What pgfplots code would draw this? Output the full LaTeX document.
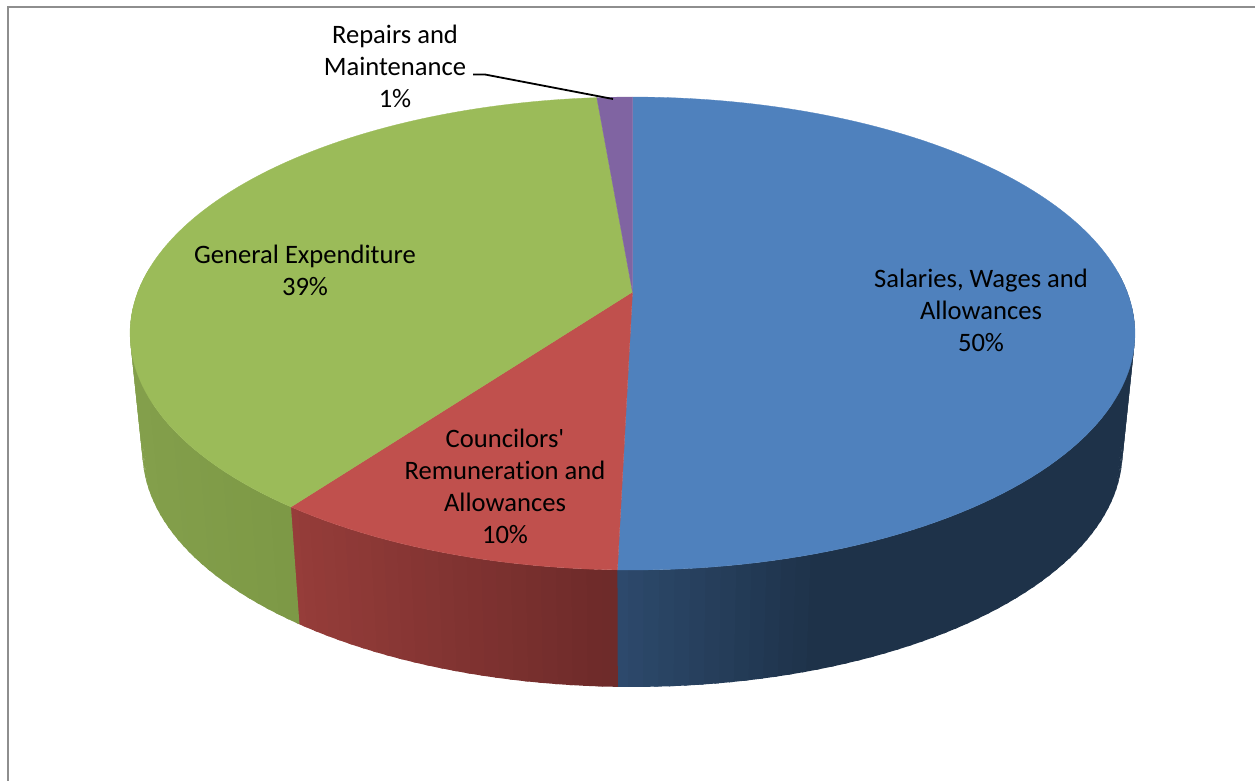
\documentclass[border=0pt]{standalone}
\usepackage{pgfplots}
\pgfplotsset{compat=1.18}
\usepackage{fontspec}
% labels keep the straight apostrophe and separate letters
\newfontfamily\labelfont{Carlito}[Ligatures=NoCommon]

% Shares of expenditure, percent, clockwise from twelve o'clock
\def\valSalaries{50.4}
\def\valCouncil{9.7}
\def\valGeneral{38.55}
\def\valRepairs{1.35}

% Projection of the disc: top face and bottom face, in picture units
\def\kp{0.1755}
\def\cx{632.5}
\def\topA{494.7}\def\topB{229.2}\def\topY{292}
\def\lowA{482.4}\def\lowB{227.7}\def\lowY{410.8}

% Result in \px,\py for angle #1 on a face with half axes #2,#3 and apex height #4
\newcommand\discpoint[4]{%
  \pgfmathsetmacro\dn{1+\kp*cos(#1)}%
  \pgfmathsetmacro\px{\cx+#2*sin(#1)/\dn}%
  \pgfmathsetmacro\py{#4-#3*cos(#1)/\dn}%
}

% Flat wedge of the top face: colour, start angle, end angle
\newcommand\topwedge[3]{%
  \gdef\pts{}%
  \pgfmathtruncatemacro\nn{max(2,ceil((#3-#2)/1.5))}%
  \foreach \i in {0,...,\nn}{%
    \pgfmathsetmacro\angt{#2+(#3-#2)/\nn*\i}%
    \discpoint{\angt}{\topA}{\topB}{\topY}%
    \xdef\pts{\pts (\px,\py)}%
  }%
  \edef\doit{\noexpand\addplot[fill=#1,draw=#1,line width=0.3pt,forget plot] coordinates {(\cx,\topY) \pts} -- cycle;}%
  \doit
}

% Side wall of a slice as vertical strips whose colour runs with x:
% start angle, end angle, x1, rgb at x1, x2, rgb at x2
\newcommand\wallslice[6]{%
  \pgfmathtruncatemacro\nn{max(2,ceil((#2-#1)/1.5))}%
  \foreach \i in {1,...,\nn}{%
    \pgfmathsetmacro\ta{#1+(#2-#1)/\nn*(\i-1)}%
    \pgfmathsetmacro\tb{min(#2,\ta+1.3*(#2-#1)/\nn)}%
    \discpoint{\ta}{\topA}{\topB}{\topY}\let\xa\px\let\ya\py
    \discpoint{\tb}{\topA}{\topB}{\topY}\let\xb\px\let\yb\py
    \discpoint{\tb}{\lowA}{\lowB}{\lowY}\let\xc\px\let\yc\py
    \discpoint{\ta}{\lowA}{\lowB}{\lowY}\let\xd\px\let\yd\py
    \pgfmathsetmacro\ff{max(0,min(1,(\xa-#3)/(#5-#3)))}%
    \wallcolour#4;#6;%
    \edef\doit{\noexpand\addplot[fill={rgb,255:red,\cr;green,\cg;blue,\cb},draw=none,forget plot]
      coordinates {(\xa,\ya) (\xb,\yb) (\xc,\yc) (\xd,\yd)} -- cycle;}%
    \doit
  }%
}
\def\wallcolour#1,#2,#3;#4,#5,#6;{%
  \pgfmathtruncatemacro\cr{#1+(#4-#1)*\ff}%
  \pgfmathtruncatemacro\cg{#2+(#5-#2)*\ff}%
  \pgfmathtruncatemacro\cb{#3+(#6-#3)*\ff}%
}

\definecolor{sliceBlue}{HTML}{4F81BD}
\definecolor{sliceRed}{HTML}{C0504D}
\definecolor{sliceGreen}{HTML}{9BBB59}
\definecolor{slicePurple}{HTML}{8064A2}
\definecolor{frameGrey}{HTML}{8E8E8E}

\begin{document}
\begin{tikzpicture}
\pgfmathsetmacro\angA{3.6*\valSalaries}
\pgfmathsetmacro\angB{\angA+3.6*\valCouncil}
\pgfmathsetmacro\angC{\angB+3.6*\valGeneral}
% walls run a little under their neighbour so no seam shows
\pgfmathsetmacro\angAw{\angA+0.5}
\pgfmathsetmacro\angBw{\angB+0.5}
\begin{axis}[
  scale only axis, width=1255pt, height=781pt,
  xmin=0, xmax=1255, ymin=0, ymax=781, y dir=reverse,
  axis lines=none, no markers, clip=true,
]
  % frame on the top and left only
  \addplot[frameGrey, line width=1.8pt] coordinates {(8,781) (8,6.8) (1255,6.8)};

  % side walls
  \wallslice{85}{\angAw}{617}{46,75,110}{830}{30,50,73}
  \wallslice{\angA}{\angBw}{300}{150,61,58}{617}{110,43,42}
  \wallslice{\angB}{276}{150}{131,159,75}{300}{125,153,70}

  % top face
  \topwedge{sliceBlue}{0}{\angA}
  \topwedge{sliceRed}{\angA}{\angB}
  \topwedge{sliceGreen}{\angB}{\angC}
  \topwedge{slicePurple}{\angC}{360}

  % leader line of the smallest slice
  \addplot[black, line width=1.8pt] coordinates {(473,74.5) (485,74.5) (613,99)};

  \begin{scope}[every node/.style={align=center, text=black, inner sep=0pt,
      font=\labelfont\fontsize{26.6}{32}\selectfont}]
    \node at (axis cs:981,310) {Salaries, Wages and\\Allowances\\50\%};
    \node at (axis cs:505,486) {Councilors'\\Remuneration and\\Allowances\\10\%};
    \node at (axis cs:305,270) {General Expenditure\\39\%};
    \node at (axis cs:395,66) {Repairs and\\Maintenance\\1\%};
  \end{scope}
\end{axis}
% the page is the whole chart area, white margin included
\path (0pt,0pt) rectangle (1255pt,781pt);
\end{tikzpicture}
\end{document}
